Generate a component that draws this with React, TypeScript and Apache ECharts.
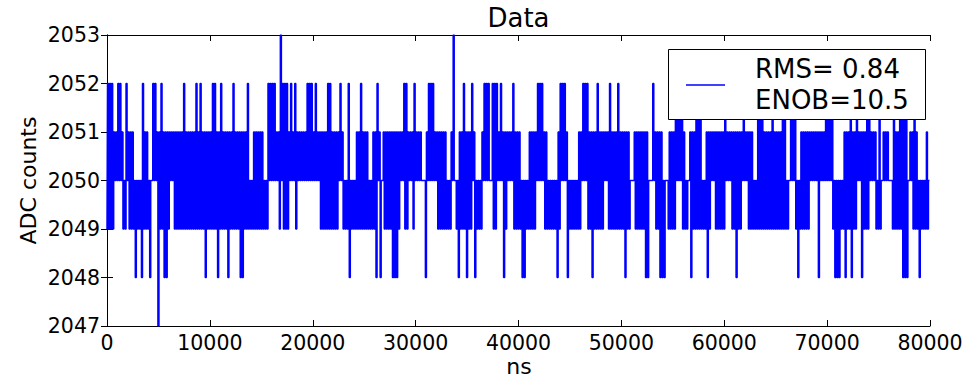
import React, { useEffect, useRef } from "react";
import * as echarts from "echarts";

// ADC samples, one every SAMPLE_NS nanoseconds (10000 ns per block)
const SAMPLE_NS = 100;

const adc0 = [
  2049,2052,2049,2052,2049,2052,2049,2051,2050,2051,
  2050,2052,2050,2052,2050,2051,2049,2050,2049,2052,
  2050,2051,2049,2051,2049,2051,2049,2050,2048,2050,
  2049,2050,2049,2050,2048,2052,2049,2051,2049,2051,
  2049,2050,2048,2050,2050,2052,2050,2052,2050,2051,
  2047,2051,2049,2052,2049,2051,2048,2051,2048,2051,
  2049,2051,2050,2051,2050,2051,2049,2051,2049,2051,
  2049,2051,2049,2051,2049,2052,2049,2051,2049,2051,
  2049,2051,2049,2051,2049,2051,2049,2052,2049,2051,
  2049,2052,2049,2051,2049,2051,2048,2051,2049,2051,
];
const adc1 = [
  2049,2051,2049,2052,2049,2052,2049,2051,2048,2051,
  2049,2052,2049,2051,2049,2051,2049,2051,2048,2051,
  2049,2051,2049,2052,2049,2051,2049,2051,2049,2051,
  2048,2051,2048,2051,2049,2051,2049,2052,2049,2050,
  2049,2050,2049,2051,2049,2051,2049,2051,2049,2051,
  2049,2051,2049,2050,2049,2050,2049,2052,2050,2052,
  2050,2052,2050,2052,2050,2051,2050,2051,2049,2053,
  2050,2052,2049,2052,2049,2052,2049,2051,2050,2052,
  2050,2051,2050,2052,2049,2051,2050,2051,2050,2051,
  2050,2051,2050,2051,2050,2052,2050,2052,2050,2052,
];
const adc2 = [
  2050,2051,2050,2052,2050,2051,2050,2051,2049,2051,
  2049,2051,2049,2051,2049,2052,2049,2052,2049,2051,
  2049,2051,2049,2051,2049,2051,2050,2052,2050,2051,
  2049,2050,2049,2050,2049,2052,2048,2050,2049,2050,
  2049,2050,2049,2051,2049,2051,2049,2052,2049,2051,
  2049,2051,2049,2051,2049,2050,2049,2050,2049,2051,
  2049,2051,2048,2052,2050,2051,2048,2050,2050,2051,
  2049,2051,2049,2051,2049,2051,2049,2051,2048,2051,
  2048,2051,2048,2051,2049,2051,2050,2051,2050,2052,
  2049,2052,2049,2051,2050,2051,2050,2051,2049,2052,
];
const adc3 = [
  2050,2051,2050,2051,2050,2051,2050,2050,2050,2050,
  2048,2051,2050,2052,2050,2052,2050,2052,2050,2051,
  2050,2051,2049,2051,2049,2051,2049,2051,2049,2051,
  2049,2050,2049,2050,2049,2051,2050,2053,2050,2050,
  2049,2050,2048,2051,2049,2051,2049,2052,2049,2051,
  2048,2051,2049,2051,2049,2052,2050,2051,2048,2050,
  2049,2050,2049,2050,2049,2051,2050,2052,2050,2052,
  2050,2052,2050,2050,2050,2052,2049,2052,2049,2052,
  2050,2051,2050,2052,2050,2051,2048,2051,2049,2051,
  2050,2051,2050,2051,2050,2052,2049,2051,2049,2051,
];
const adc4 = [
  2049,2051,2049,2050,2048,2050,2048,2050,2049,2050,
  2049,2051,2049,2051,2049,2051,2049,2051,2050,2052,
  2050,2052,2050,2052,2050,2051,2049,2051,2049,2050,
  2049,2050,2049,2050,2049,2050,2049,2050,2048,2051,
  2049,2052,2050,2052,2050,2052,2050,2051,2048,2050,
  2049,2050,2049,2050,2049,2050,2049,2050,2049,2051,
  2049,2051,2050,2052,2050,2052,2050,2052,2049,2051,
  2049,2051,2048,2051,2049,2051,2049,2052,2049,2051,
  2049,2051,2049,2051,2050,2051,2050,2051,2049,2052,
  2049,2051,2049,2051,2049,2051,2049,2052,2049,2051,
];
const adc5 = [
  2049,2051,2049,2051,2048,2051,2049,2051,2049,2050,
  2050,2050,2050,2051,2049,2051,2049,2051,2049,2051,
  2049,2051,2049,2051,2048,2051,2048,2050,2050,2050,
  2050,2052,2050,2051,2049,2051,2049,2051,2048,2051,
  2048,2050,2048,2050,2050,2050,2049,2051,2049,2051,
  2049,2051,2049,2052,2050,2052,2050,2052,2050,2052,
  2049,2051,2049,2050,2049,2050,2050,2051,2048,2051,
  2049,2051,2049,2052,2049,2052,2049,2052,2049,2050,
  2049,2050,2049,2051,2048,2051,2049,2051,2050,2051,
  2050,2051,2049,2051,2049,2051,2049,2051,2049,2051,
];
const adc6 = [
  2049,2052,2050,2051,2050,2051,2050,2051,2049,2051,
  2049,2051,2048,2051,2049,2051,2049,2051,2050,2052,
  2050,2051,2050,2051,2049,2051,2049,2051,2049,2050,
  2049,2050,2049,2052,2049,2052,2049,2052,2049,2051,
  2049,2051,2049,2051,2049,2051,2049,2052,2049,2051,
  2049,2051,2049,2051,2049,2051,2049,2052,2049,2052,
  2049,2050,2049,2050,2050,2052,2050,2052,2050,2052,
  2049,2050,2048,2050,2049,2051,2049,2051,2049,2051,
  2049,2051,2049,2051,2050,2051,2050,2051,2050,2051,
  2050,2051,2048,2051,2050,2051,2050,2051,2050,2052,
];
const adc7 = [
  2050,2052,2050,2052,2050,2052,2049,2050,2048,2050,
  2048,2050,2048,2050,2049,2050,2049,2051,2048,2051,
  2049,2051,2049,2052,2048,2051,2049,2051,2049,2052,
  2050,2051,2050,2051,2048,2051,2049,2051,2049,2052,
  2049,2052,2050,2051,2050,2051,2050,2051,2049,2050,
  2049,2052,2049,2050,2050,2051,2050,2051,2050,2051,
  2050,2050,2050,2050,2049,2052,2049,2051,2049,2051,
  2049,2052,2049,2052,2048,2052,2048,2052,2048,2050,
  2050,2051,2050,2051,2049,2052,2049,2051,2049,2050,
  2048,2050,2049,2050,2049,2050,2049,2051,2049,2050,
  2050,
];

const xTicks = [0, 10000, 20000, 30000, 40000, 50000, 60000, 70000, 80000];
const yTicks = [2047, 2048, 2049, 2050, 2051, 2052, 2053];

const TITLE = "Data";
const X_NAME = "ns";
const Y_NAME = "ADC counts";
const LEGEND_LINES = ["RMS= 0.84", "ENOB=10.5"];

const FONT = "'DejaVu Sans', 'Liberation Sans', sans-serif";

export default function App() {
  const ref = useRef<HTMLDivElement>(null);

  useEffect(() => {
    if (!ref.current) return;
    const chart = echarts.init(ref.current, null, { renderer: "svg" });

    const samples = [adc0, adc1, adc2, adc3, adc4, adc5, adc6, adc7].flat();
    const points = samples.map((v, i) => [i * SAMPLE_NS, v]);

    const xMin = xTicks[0];
    const xMax = xTicks[xTicks.length - 1];
    const xStep = xTicks[1] - xTicks[0];
    const yMin = yTicks[0];
    const yMax = yTicks[yTicks.length - 1];
    const yStep = yTicks[1] - yTicks[0];

    const axisLine = { show: true, lineStyle: { color: "#000", width: 1 } };
    const tick = { show: true, inside: true, length: 6, lineStyle: { color: "#000", width: 1 } };
    const label = {
      color: "#000",
      fontSize: 20.5,
      fontFamily: FONT,
      formatter: (v: number) => String(v),
    };

    const xBase = {
      type: "value" as const,
      min: xMin,
      max: xMax,
      interval: xStep,
      axisLine,
      axisTick: tick,
      splitLine: { show: false },
    };
    const yBase = {
      type: "value" as const,
      min: yMin,
      max: yMax,
      interval: yStep,
      axisLine,
      axisTick: tick,
      splitLine: { show: false },
    };

    chart.setOption({
      animation: false,
      backgroundColor: "#fff",
      grid: { left: 107, right: 41, top: 35, bottom: 51, containLabel: false },
      xAxis: [
        { ...xBase, position: "bottom", axisLabel: { ...label, margin: 6 } },
        { ...xBase, position: "top", axisLabel: { show: false } },
      ],
      yAxis: [
        { ...yBase, position: "left", axisLabel: { ...label, margin: 7 } },
        { ...yBase, position: "right", axisLabel: { show: false } },
      ],
      series: [
        {
          type: "line",
          name: LEGEND_LINES.join("\n"),
          data: points,
          xAxisIndex: 0,
          yAxisIndex: 0,
          step: "middle",
          showSymbol: false,
          symbol: "none",
          clip: true,
          lineStyle: { color: "#0000ff", width: 1.5 },
          emphasis: { disabled: true },
          z: 2,
        },
      ],
      graphic: [
        {
          type: "text",
          x: 518.5,
          y: 17.5,
          z: 100,
          style: { text: TITLE, font: `26px ${FONT}`, fill: "#000", textAlign: "center", textVerticalAlign: "middle" },
        },
        {
          type: "text",
          x: 519,
          y: 366,
          z: 100,
          style: { text: X_NAME, font: `22px ${FONT}`, fill: "#000", textAlign: "center", textVerticalAlign: "middle" },
        },
        {
          type: "text",
          x: 28,
          y: 180.5,
          rotation: Math.PI / 2,
          z: 100,
          style: { text: Y_NAME, font: `22px ${FONT}`, fill: "#000", textAlign: "center", textVerticalAlign: "middle" },
        },
        {
          type: "rect",
          z: 100,
          shape: { x: 668.5, y: 49.5, width: 257, height: 70 },
          style: { fill: "#fff", stroke: "#000", lineWidth: 1 },
        },
        {
          type: "line",
          z: 101,
          shape: { x1: 686, y1: 85, x2: 725, y2: 85 },
          style: { stroke: "#0000ff", lineWidth: 1.3 },
        },
        {
          type: "text",
          x: 755,
          y: 69,
          z: 101,
          style: { text: LEGEND_LINES[0], font: `26px ${FONT}`, fill: "#000", textAlign: "left", textVerticalAlign: "middle" },
        },
        {
          type: "text",
          x: 755,
          y: 100,
          z: 101,
          style: { text: LEGEND_LINES[1], font: `26px ${FONT}`, fill: "#000", textAlign: "left", textVerticalAlign: "middle" },
        },
      ],
    });

    return () => chart.dispose();
  }, []);

  return (
    <div
      ref={ref}
      style={{ position: "absolute", left: 0, top: 0, width: 971, height: 377 }}
    />
  );
}
